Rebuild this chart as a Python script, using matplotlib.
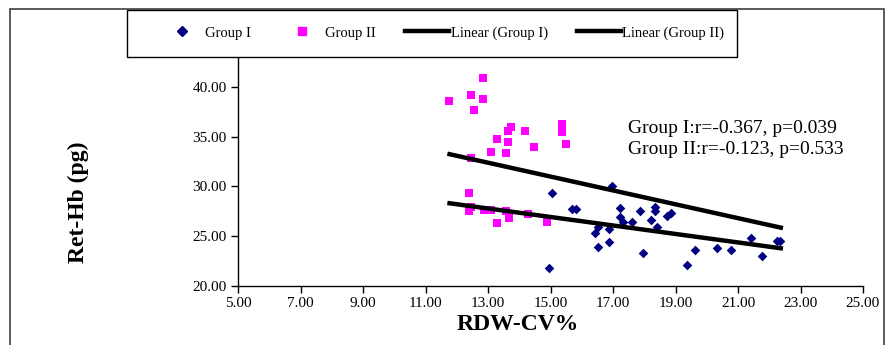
import matplotlib
matplotlib.use("Agg")
import matplotlib.pyplot as plt
from matplotlib.lines import Line2D
from matplotlib.patches import Rectangle

plt.rcParams['font.family'] = ['Liberation Serif', 'DejaVu Serif']

# Group I (navy diamonds)
g1_x = [15.05, 14.95, 15.70, 15.82, 16.96, 16.42, 16.52, 16.53, 16.87, 16.87,
        17.22, 17.22, 17.33, 17.62, 17.86, 17.95, 18.23, 18.33, 18.33, 18.42,
        18.74, 18.85, 19.38, 19.63, 20.33, 20.77, 21.43, 21.76, 22.24, 22.35]
g1_y = [29.35, 21.85, 27.70, 27.70, 30.08, 25.30, 23.95, 25.96, 24.45, 25.70,
        27.87, 26.96, 26.40, 26.40, 27.54, 23.35, 26.63, 27.97, 27.54, 25.96,
        27.00, 27.30, 22.14, 23.62, 23.79, 23.62, 24.82, 23.02, 24.52, 24.52]

# Group II (magenta squares)
g2_x = [12.84, 11.76, 12.47, 12.84, 12.56, 13.75, 13.65, 14.19, 15.38, 15.38,
        15.38, 15.48, 13.28, 13.65, 14.48, 13.09, 13.57, 12.47, 12.38, 12.47,
        12.38, 12.86, 13.10, 13.57, 13.66, 13.28, 14.29, 14.90]
g2_y = [40.87, 38.62, 39.23, 38.76, 37.72, 35.95, 35.60, 35.60, 36.25, 35.85,
        35.45, 34.27, 34.74, 34.44, 34.00, 33.44, 33.34, 32.83, 29.32, 27.97,
        27.54, 27.64, 27.64, 27.57, 26.80, 26.36, 27.24, 26.46]

# Linear trend lines (end values)
trend_x = [11.77, 22.37]
trend_I = [28.31, 23.79]
trend_II = [33.24, 25.86]

x_ticks = [5, 7, 9, 11, 13, 15, 17, 19, 21, 23, 25]
y_ticks = [20, 25, 30, 35, 40]

stats_text = "Group I:r=-0.367, p=0.039\nGroup II:r=-0.123, p=0.533"

fig = plt.figure(figsize=(8.9, 3.45), dpi=100)
ax = fig.add_axes([238/890, 1-286/345, 625/890, 229/345])

ax.scatter(g1_x, g1_y, marker='D', s=24, color='#000080', linewidths=0, zorder=3)
ax.scatter(g2_x, g2_y, marker='s', s=38, color='#FF00FF', linewidths=0, zorder=3)
ax.plot(trend_x, trend_I, color='black', lw=3.2, zorder=4)
ax.plot(trend_x, trend_II, color='black', lw=3.2, zorder=4)

ax.set_xlim(5, 25)
ax.set_ylim(20, 43)
ax.set_xticks(x_ticks)
ax.set_xticklabels([f"{v:.2f}" for v in x_ticks])
ax.set_yticks(y_ticks)
ax.set_yticklabels([f"{v:.2f}" for v in y_ticks])
ax.tick_params(axis='both', direction='out', length=5, width=1, labelsize=11, pad=3)
for s in ['top', 'right']:
    ax.spines[s].set_visible(False)
for s in ['left', 'bottom']:
    ax.spines[s].set_linewidth(1)

ax.text(628/890, 1-139/345, stats_text, transform=fig.transFigure,
        fontsize=14, va='center', ha='left', linespacing=1.38)

fig.text(518/890, 1-325/345, "RDW-CV%", fontsize=17, fontweight='bold',
         ha='center', va='center')
fig.text(78/890, 1-202/345, "Ret-Hb (pg)", fontsize=17, fontweight='bold',
         ha='center', va='center', rotation=90)

# outer chart frame
fig.patches.append(Rectangle((10/890, -0.1), 874/890, 1.1 - 9/345,
                             transform=fig.transFigure, fill=False,
                             edgecolor='#404040', lw=1.2))
# legend frame
fig.patches.append(Rectangle((127/890, 1-57/345), 610/890, 47/345,
                             transform=fig.transFigure, fill=True,
                             facecolor='white', edgecolor='black', lw=1.0,
                             zorder=5))

handles = [
    Line2D([], [], marker='D', ls='none', color='#000080', markersize=5),
    Line2D([], [], marker='s', ls='none', color='#FF00FF', markersize=6),
    Line2D([], [], color='black', lw=3.2),
    Line2D([], [], color='black', lw=3.2),
]
labels = ["Group I", "Group II", "Linear (Group I)", "Linear (Group II)"]
leg = fig.legend(handles, labels, loc='center', bbox_to_anchor=(442/890, 1-33/345),
                 ncol=4, fontsize=10.5, frameon=False,
                 handlelength=3.0, handletextpad=0.1,
                 columnspacing=2.0, borderpad=0.5)
leg.set_zorder(6)

fig.savefig("out.png", dpi=100)
